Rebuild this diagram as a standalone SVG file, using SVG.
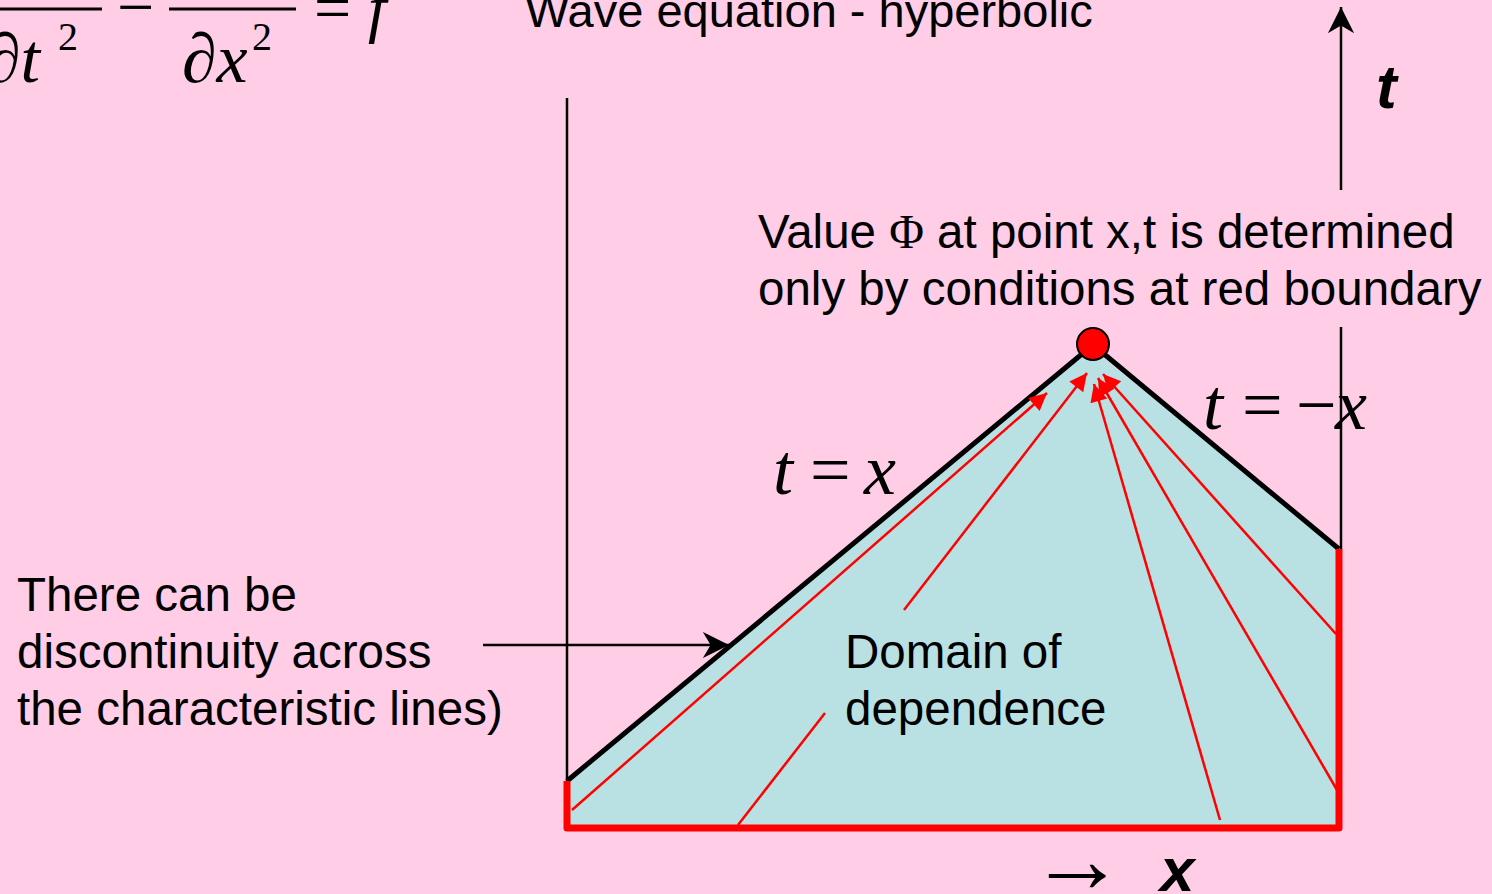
<svg xmlns="http://www.w3.org/2000/svg" width="1492" height="894" viewBox="0 0 1492 894">
<defs>
<style>
.sans{font-family:"Liberation Sans",Arial,sans-serif;font-size:47.5px;fill:#000}
.math{font-family:"Liberation Serif","Times New Roman",serif;font-size:66px;fill:#000}
.m72{font-size:72px}
.it{font-style:italic}
.bi{font-family:"Liberation Sans",Arial,sans-serif;font-size:62px;font-style:italic;font-weight:bold;fill:#000}
.red{stroke:#FF0000;stroke-width:2.5;fill:none}
.redb{stroke:#FF0000;stroke-width:7;fill:none;stroke-linejoin:round}
.blk{stroke:#000;stroke-width:5;fill:none}
.thin{stroke:#000;stroke-width:2.5;fill:none}
</style>
<marker id="ra" viewBox="0 0 10 10" refX="10" refY="5" markerWidth="8" markerHeight="7" orient="auto" markerUnits="strokeWidth">
<path d="M0,0 L10,5 L0,10 z" fill="#FF0000"/>
</marker>
<marker id="ba" viewBox="0 0 10 10" refX="10" refY="5" markerWidth="10.5" markerHeight="10.5" orient="auto" markerUnits="strokeWidth">
<path d="M0,0 L10,5 L0,10 L3,5 z" fill="#000"/>
</marker>
</defs>
<rect width="1492" height="894" fill="#FFCDE6"/>

<g id="equation">
<line x1="0" y1="9" x2="102" y2="9" stroke="#000" stroke-width="3"/>
<line x1="169" y1="9" x2="296" y2="9" stroke="#000" stroke-width="3"/>
<text class="math" x="-14" y="82" style="font-size:70px">∂<tspan class="it">t</tspan></text>
<text class="math" x="58" y="50" style="font-size:40px">2</text>
<text class="math" x="117" y="29">−</text>
<text class="math" x="182" y="82" style="font-size:70px">∂<tspan class="it">x</tspan></text>
<text class="math" x="252" y="50" style="font-size:40px">2</text>
<text class="math" x="314" y="30">=</text>
<text class="math it" x="368" y="30">f</text>
</g>

<g id="title">
<text class="sans" x="525" y="27" style="font-size:47px">Wave equation - hyperbolic</text>
</g>

<g id="domain">
<polygon points="567,781 1090,347 1339,549 1339,828 567,828" fill="#B9E0E3"/>
</g>

<g id="connectors">
<line class="thin" x1="567" y1="98" x2="567" y2="781"/>
<line class="thin" x1="1341" y1="327" x2="1341" y2="549"/>
<line class="thin" x1="1341" y1="190" x2="1341" y2="7" marker-end="url(#ba)"/>
<line class="thin" x1="483" y1="645" x2="729" y2="645" marker-end="url(#ba)"/>
<line class="blk" x1="567" y1="781" x2="1088" y2="349"/>
<line class="blk" x1="1098" y1="349" x2="1339" y2="549"/>
<polyline class="redb" points="567,781 567,828 1339,828 1339,549"/>
<line class="red" x1="572" y1="810" x2="1047" y2="393" marker-end="url(#ra)"/>
<line class="red" x1="738" y1="825" x2="825" y2="713"/>
<line class="red" x1="904" y1="610" x2="1087" y2="373" marker-end="url(#ra)"/>
<line class="red" x1="1220" y1="820" x2="1094" y2="384" marker-end="url(#ra)"/>
<line class="red" x1="1337" y1="790" x2="1098" y2="378" marker-end="url(#ra)"/>
<line class="red" x1="1336" y1="634" x2="1103" y2="374" marker-end="url(#ra)"/>
</g>

<g id="point">
<circle cx="1093" cy="344" r="16" fill="#FF0000" stroke="#000" stroke-width="2"/>
</g>

<g id="labels">
<text class="sans" x="758" y="248">Value <tspan style="font-family:'Liberation Serif','Times New Roman',serif">Φ</tspan> at point x,t is determined</text>
<text class="sans" x="758" y="305">only by conditions at red boundary</text>
<text class="sans" x="845" y="668">Domain of</text>
<text class="sans" x="845" y="725">dependence</text>
<text class="sans" x="17" y="611">There can be</text>
<text class="sans" x="17" y="668">discontinuity across</text>
<text class="sans" x="17" y="725">the characteristic lines)</text>
<text class="math m72 it" x="773" y="494">t</text>
<text class="math m72" x="810" y="494">=</text>
<text class="math m72 it" x="864" y="494">x</text>
<text class="math m72 it" x="1203" y="429">t</text>
<text class="math m72" x="1242" y="429">=</text>
<text class="math m72" x="1296" y="429">−</text>
<text class="math m72 it" x="1335" y="429">x</text>
<text class="bi" x="1376" y="108">t</text>
<text class="math" x="1029" y="892" style="font-size:96px">→</text>
<text class="bi" x="1160" y="891">x</text>
</g>
</svg>
